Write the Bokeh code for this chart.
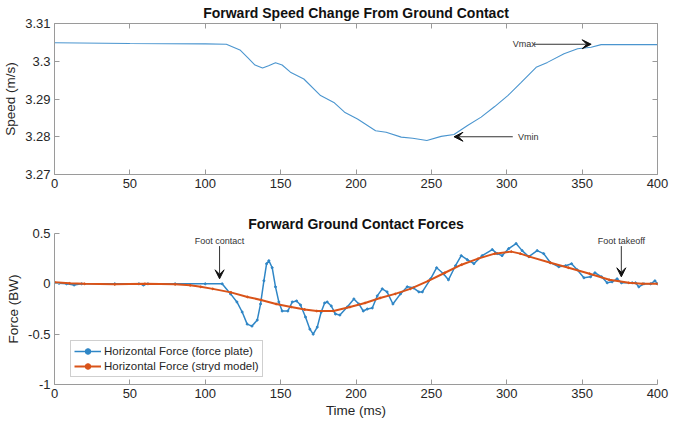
from bokeh.plotting import figure
from bokeh.models import (LinearAxis, FixedTicker, CustomJSTickFormatter, Arrow,
                          VeeHead, Label, Range1d)
from bokeh.layouts import column
from bokeh.embed import file_html
from bokeh.resources import INLINE

# ---------------- data ----------------
x_ticks = [0, 50, 100, 150, 200, 250, 300, 350, 400]
speed_ticks = [3.27, 3.28, 3.29, 3.30, 3.31]
force_ticks = [-1, -0.5, 0, 0.5]

speed_t = [0, 50, 100, 114, 123, 128, 133, 138, 142, 146.6, 151, 156.5, 165.4,
           176.5, 185.3, 192.4, 201, 213, 220, 230, 237.6, 247, 256.5, 265, 274,
           283, 292, 300.7, 309.6, 319.5, 327, 338, 347, 356, 362.6, 373.7, 400]
speed_v = [3.3049, 3.3047, 3.3046, 3.3045, 3.3030, 3.3010, 3.2990, 3.2982, 3.2988,
           3.2996, 3.2990, 3.2971, 3.2953, 3.2909, 3.2891, 3.2865, 3.2847, 3.2816,
           3.2812, 3.2799, 3.2796, 3.2790, 3.2801, 3.2806, 3.2830, 3.2852, 3.2880,
           3.2909, 3.2944, 3.2984, 3.2997, 3.3020, 3.3033, 3.3037, 3.3044, 3.3044,
           3.3044]

plate_t = [0, 3, 8, 13, 18, 40, 56, 59, 62, 80, 100, 111.2, 116.8, 121, 124.5,
           127.8, 131, 134.5, 136.7, 138.9, 140.7, 142.2, 144.4, 146.6, 148.8, 151,
           154.8, 157.7, 160.6, 163.2, 166.5, 169.4, 171.6, 174.3, 176.9, 179.2,
           180.9, 183.6, 186.4, 189.3, 194.2, 198.6, 201.9, 204.8, 207.5, 210.8,
           214.1, 217.4, 220.6, 224.5, 229.5, 234, 238, 241.7, 244, 249.5, 253.5,
           258, 261.3, 266, 269.8, 273.8, 278.2, 283.7, 290.4, 293.7, 296.9, 301.3,
           306.2, 310.2, 314.6, 320.2, 324.5, 329, 334.5, 339, 343, 346.7, 351.2,
           355.6, 358.5, 362.9, 366.6, 369.9, 373.2, 376.1, 383.2, 385.4, 387.6,
           391, 395.4, 398.3, 400]
plate_v = [0.01, 0.005, 0.0, -0.012, 0.0, 0.0, 0.0, -0.012, 0.0, 0.0, 0.0, 0.0,
           -0.10, -0.18, -0.28, -0.40, -0.42, -0.36, -0.20, 0.03, 0.20, 0.23, 0.16,
           -0.03, -0.18, -0.27, -0.27, -0.18, -0.17, -0.21, -0.33, -0.45, -0.50,
           -0.43, -0.28, -0.19, -0.18, -0.22, -0.30, -0.31, -0.23, -0.15, -0.20,
           -0.27, -0.25, -0.24, -0.12, -0.05, -0.08, -0.20, -0.10, -0.03, -0.04,
           -0.08, -0.08, 0.05, 0.16, 0.10, 0.04, 0.18, 0.28, 0.24, 0.20, 0.28,
           0.34, 0.30, 0.28, 0.35, 0.40, 0.33, 0.27, 0.33, 0.30, 0.21, 0.17, 0.18,
           0.20, 0.14, 0.06, 0.07, 0.11, 0.07, 0.01, 0.02, 0.05, 0.01, 0.01, 0.01,
           -0.03, 0.0, 0.0, 0.03, 0.0]

stryd_t = [0, 10, 20, 40, 60, 80, 90, 97, 105, 117, 128, 137, 147, 157, 166, 174,
           185, 196, 206, 216, 226, 236, 248, 259, 270, 281, 292, 303, 309, 315,
           329, 341, 355, 368, 381, 390, 400]
stryd_v = [0.015, 0.005, 0.0, -0.005, 0.0, -0.005, -0.015, -0.03, -0.05, -0.085,
           -0.13, -0.16, -0.20, -0.23, -0.255, -0.27, -0.27, -0.23, -0.19, -0.14,
           -0.10, -0.05, 0.03, 0.11, 0.19, 0.25, 0.30, 0.32, 0.30, 0.27, 0.21,
           0.16, 0.10, 0.04, 0.01, 0.0, 0.0]

# annotations (data coordinates)
vmax_text = [304, 3.3045]
vmax_arrow = [318, 3.3045, 356, 3.3045]
vmin_text = [307.5, 3.2800]
vmin_arrow = [304, 3.2800, 265, 3.2800]
contact_text = [109.5, 0.43]
contact_arrow = [109.5, 0.375, 109.5, 0.05]
takeoff_text = [376, 0.43]
takeoff_arrow = [376, 0.375, 376, 0.07]

FONT = "Liberation Sans"
AXC = "#9a9a9a"
TXT = "#262626"
fmt_code = "return String(Math.round(tick*1000)/1000)"


def style_axis(ax, ticks):
    ax.ticker = FixedTicker(ticks=ticks)
    ax.axis_line_color = AXC
    ax.major_tick_line_color = AXC
    ax.major_tick_in = 5
    ax.major_tick_out = 0
    ax.minor_tick_line_color = None
    ax.major_label_text_font = FONT
    ax.major_label_text_font_size = "13px"
    ax.major_label_text_color = TXT
    ax.axis_label_text_font = FONT
    ax.axis_label_text_font_size = "13.5px"
    ax.axis_label_text_font_style = "normal"
    ax.axis_label_text_color = TXT
    ax.formatter = CustomJSTickFormatter(code=fmt_code)


def bare_axis(ticks):
    ax = LinearAxis(ticker=FixedTicker(ticks=ticks))
    ax.axis_line_color = AXC
    ax.major_tick_line_color = AXC
    ax.major_tick_in = 5
    ax.major_tick_out = 0
    ax.minor_tick_line_color = None
    ax.formatter = CustomJSTickFormatter(code="return ''")
    ax.major_label_standoff = 0
    return ax


def style_title(p, text, standoff):
    p.title.text = text
    p.title.align = "center"
    p.title.text_font = FONT
    p.title.text_font_size = "14px"
    p.title.text_font_style = "bold"
    p.title.text_color = "#111111"
    p.title.standoff = standoff


# ---------------- top figure ----------------
p1 = figure(frame_width=603, frame_height=151, x_range=Range1d(0, 400),
            y_range=Range1d(3.27, 3.31), output_backend="svg",
            toolbar_location=None, min_border_left=46, min_border_right=23,
            min_border_top=4, min_border_bottom=37)
style_title(p1, "Forward Speed Change From Ground Contact", 5)
p1.grid.visible = False
p1.outline_line_color = None
style_axis(p1.xaxis[0], x_ticks)
style_axis(p1.yaxis[0], speed_ticks)
p1.yaxis[0].axis_label = "Speed (m/s)"
p1.xaxis[0].major_label_standoff = 4
p1.yaxis[0].major_label_standoff = 4
p1.yaxis[0].axis_label_standoff = 4
p1.add_layout(bare_axis(x_ticks), "above")
p1.add_layout(bare_axis(speed_ticks), "right")

p1.line(speed_t, speed_v, line_color="#4a95cf", line_width=1.1)

p1.add_layout(Label(x=vmax_text[0], y=vmax_text[1], text="Vmax", text_font=FONT,
                    text_font_size="9px", text_color="#333333",
                    text_baseline="middle", text_align="left"))
p1.add_layout(Arrow(x_start=vmax_arrow[0], y_start=vmax_arrow[1],
                    x_end=vmax_arrow[2], y_end=vmax_arrow[3],
                    line_color="#333333", line_width=1,
                    end=VeeHead(size=9, fill_color="#111111", line_color="#111111")))
p1.add_layout(Label(x=vmin_text[0], y=vmin_text[1], text="Vmin", text_font=FONT,
                    text_font_size="9px", text_color="#333333",
                    text_baseline="middle", text_align="left"))
p1.add_layout(Arrow(x_start=vmin_arrow[0], y_start=vmin_arrow[1],
                    x_end=vmin_arrow[2], y_end=vmin_arrow[3],
                    line_color="#333333", line_width=1,
                    end=VeeHead(size=9, fill_color="#111111", line_color="#111111")))

# ---------------- bottom figure ----------------
p2 = figure(frame_width=603, frame_height=151, x_range=Range1d(0, 400),
            y_range=Range1d(-1, 0.5), output_backend="svg",
            toolbar_location=None, min_border_left=46, min_border_right=23,
            min_border_top=6, min_border_bottom=30)
style_title(p2, "Forward Ground Contact Forces", 4)
p2.grid.visible = False
p2.outline_line_color = None
style_axis(p2.xaxis[0], x_ticks)
style_axis(p2.yaxis[0], force_ticks)
p2.xaxis[0].axis_label = "Time (ms)"
p2.yaxis[0].axis_label = "Force (BW)"
p2.xaxis[0].major_label_standoff = 4
p2.xaxis[0].axis_label_standoff = 2
p2.yaxis[0].major_label_standoff = 4
p2.yaxis[0].axis_label_standoff = 4

BLUE = "#2f86c6"
ORANGE = "#d95319"
lab1 = "Horizontal Force (force plate)"
lab2 = "Horizontal Force (stryd model)"
p2.line(plate_t, plate_v, line_color=BLUE, line_width=1.5, legend_label=lab1)
p2.scatter(plate_t, plate_v, size=2, color=BLUE, legend_label=lab1)
p2.line(stryd_t, stryd_v, line_color=ORANGE, line_width=2, legend_label=lab2)
p2.scatter(stryd_t, stryd_v, size=1.8, color=ORANGE, legend_label=lab2)

p2.add_layout(Label(x=contact_text[0], y=contact_text[1], text="Foot contact",
                    text_font=FONT, text_font_size="9px", text_color="#333333",
                    text_baseline="middle", text_align="center"))
p2.add_layout(Arrow(x_start=contact_arrow[0], y_start=contact_arrow[1],
                    x_end=contact_arrow[2], y_end=contact_arrow[3],
                    line_color="#333333", line_width=1,
                    end=VeeHead(size=9, fill_color="#111111", line_color="#111111")))
p2.add_layout(Label(x=takeoff_text[0], y=takeoff_text[1], text="Foot takeoff",
                    text_font=FONT, text_font_size="9px", text_color="#333333",
                    text_baseline="middle", text_align="center"))
p2.add_layout(Arrow(x_start=takeoff_arrow[0], y_start=takeoff_arrow[1],
                    x_end=takeoff_arrow[2], y_end=takeoff_arrow[3],
                    line_color="#333333", line_width=1,
                    end=VeeHead(size=9, fill_color="#111111", line_color="#111111")))

lg = p2.legend[0]
lg.location = (16, 7)
lg.label_text_font = FONT
lg.label_text_font_size = "11.5px"
lg.label_text_color = TXT
lg.glyph_width = 27
lg.glyph_height = 14
lg.label_height = 14
lg.label_standoff = 3
lg.spacing = 1
lg.padding = 3
lg.margin = 0
lg.border_line_color = "#a0a0a0"
lg.background_fill_alpha = 1

layout = column(p1, p2, spacing=0)
open("out.html", "w").write(file_html(layout, INLINE))
